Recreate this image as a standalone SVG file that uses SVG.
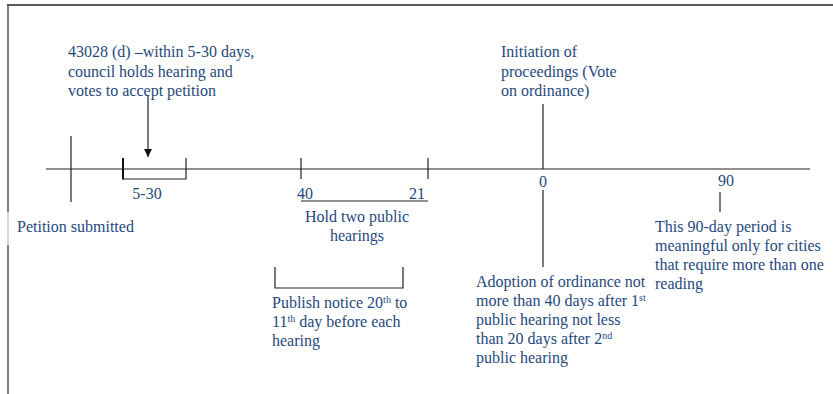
<svg xmlns="http://www.w3.org/2000/svg" width="833" height="394" viewBox="0 0 833 394">
<style>
text{font-family:'Liberation Serif','Times New Roman',Times,serif;font-size:16px;fill:#1F497D}
.ln{stroke:#222;stroke-width:1.2;fill:none}
.sup{font-size:10px}
</style>
<defs>
<marker id="ah" markerWidth="10" markerHeight="10" refX="8" refY="5" orient="auto" markerUnits="userSpaceOnUse" viewBox="0 0 10 10">
<path d="M0,1 L8,5 L0,9 Z" fill="#111"/>
</marker>
</defs>
<rect width="833" height="394" fill="#fff"/>
<g id="frame">
<line x1="7" y1="5" x2="833" y2="5" stroke="#222" stroke-width="1.5"/>
<line x1="8" y1="5" x2="8" y2="212" stroke="#555" stroke-width="1.5"/>
<line x1="8" y1="212" x2="8" y2="245" stroke="#bbb" stroke-width="1.2"/>
<line x1="8" y1="245" x2="8" y2="394" stroke="#555" stroke-width="1.5"/>
</g>
<g id="connectors">
<line class="ln" x1="46" y1="169" x2="810" y2="169"/>
<line class="ln" x1="71" y1="136" x2="71" y2="202"/>
<path class="ln" d="M186,158 V179 H123"/>
<line x1="123" y1="158" x2="123" y2="179.6" stroke="#111" stroke-width="2"/>
<line class="ln" x1="148" y1="95" x2="148" y2="157" marker-end="url(#ah)"/>
<line class="ln" x1="301" y1="158" x2="301" y2="179"/>
<line class="ln" x1="428" y1="158" x2="428" y2="179"/>
<line class="ln" x1="301" y1="201" x2="428" y2="201"/>
<path class="ln" d="M275,267 V288 H403 V267"/>
<line class="ln" x1="543" y1="104" x2="543" y2="169"/>
<line class="ln" x1="543" y1="190" x2="543" y2="267"/>
<line class="ln" x1="720" y1="192" x2="720" y2="212"/>
</g>
<g id="petition">
<text x="17" y="232">Petition submitted</text>
</g>
<g id="council">
<text x="68" y="57">43028 (d) –within 5-30 days,</text>
<text x="68" y="77">council holds hearing and</text>
<text x="68" y="96">votes to accept petition</text>
<text x="147" y="199" text-anchor="middle">5-30</text>
</g>
<g id="hearings">
<text x="297" y="199">40</text>
<text x="409" y="199">21</text>
<text x="357" y="222" text-anchor="middle">Hold two public</text>
<text x="357" y="241" text-anchor="middle">hearings</text>
</g>
<g id="notice">
<text x="272" y="308">Publish notice 20<tspan class="sup" dy="-5">th</tspan><tspan dy="5"> to</tspan></text>
<text x="272" y="327">11<tspan class="sup" dy="-5">th</tspan><tspan dy="5"> day before each</tspan></text>
<text x="272" y="346">hearing</text>
</g>
<g id="initiation">
<text x="501" y="57">Initiation of</text>
<text x="501" y="77">proceedings (Vote</text>
<text x="501" y="96">on ordinance)</text>
<text x="543" y="187" text-anchor="middle">0</text>
</g>
<g id="adoption">
<text x="476" y="287">Adoption of ordinance not</text>
<text x="476" y="306">more than 40 days after 1<tspan class="sup" dy="-5">st</tspan></text>
<text x="476" y="325">public hearing not less</text>
<text x="476" y="344">than 20 days after 2<tspan class="sup" dy="-5">nd</tspan></text>
<text x="476" y="363">public hearing</text>
</g>
<g id="ninety">
<text x="726" y="186" text-anchor="middle">90</text>
<text x="655" y="232">This 90-day period is</text>
<text x="655" y="251">meaningful only for cities</text>
<text x="655" y="270">that require more than one</text>
<text x="655" y="289">reading</text>
</g>
</svg>
